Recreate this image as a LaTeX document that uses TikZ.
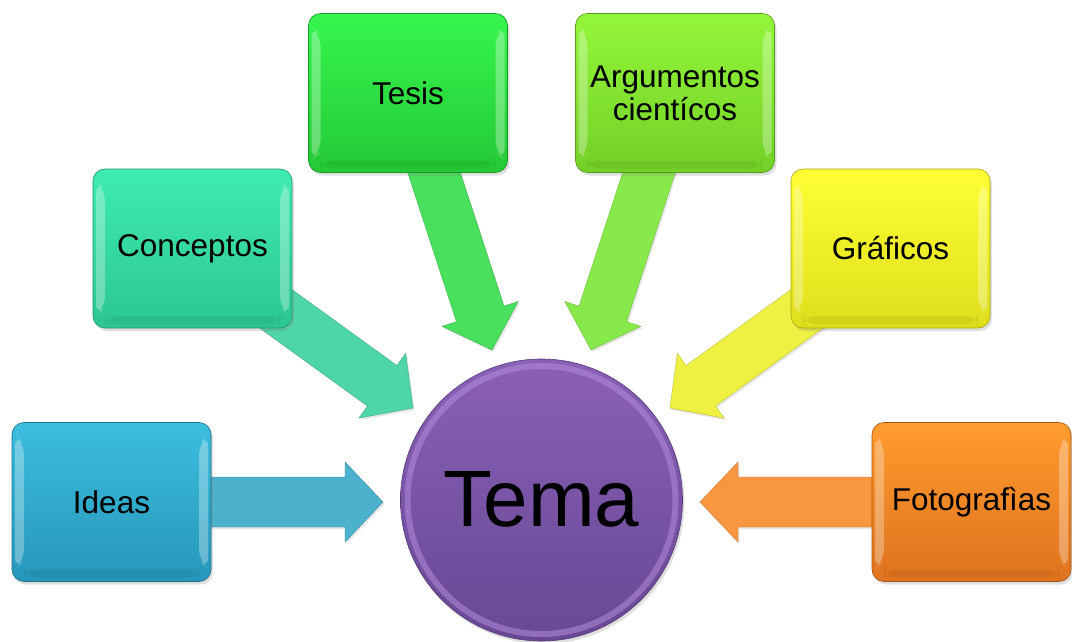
\documentclass[tikz,border=0pt]{standalone}
\usepackage{fontspec}
\setmainfont{Liberation Sans}
\usetikzlibrary{calc, shadows, backgrounds}

\definecolor{ideasT}{RGB}{60,190,222}
\definecolor{ideasB}{RGB}{38,150,186}
\definecolor{ideasA}{RGB}{76,177,205}
\definecolor{concT}{RGB}{62,236,176}
\definecolor{concB}{RGB}{44,198,144}
\definecolor{concA}{RGB}{78,214,166}
\definecolor{tesisT}{RGB}{54,246,78}
\definecolor{tesisB}{RGB}{36,200,54}
\definecolor{tesisA}{RGB}{72,224,92}
\definecolor{argT}{RGB}{148,246,58}
\definecolor{argB}{RGB}{114,208,38}
\definecolor{argA}{RGB}{136,234,74}
\definecolor{grafT}{RGB}{255,255,52}
\definecolor{grafB}{RGB}{222,222,28}
\definecolor{grafA}{RGB}{238,240,66}
\definecolor{fotoT}{RGB}{255,156,46}
\definecolor{fotoB}{RGB}{222,114,30}
\definecolor{fotoA}{RGB}{249,150,64}
\definecolor{temaT}{RGB}{138,96,182}
\definecolor{temaB}{RGB}{104,72,148}
\definecolor{temaR}{RGB}{178,140,218}

% block arrow from a box centre to a tip: #1 from, #2 tip, #3 colour
\newcommand{\blockarrow}[3]{%
  \coordinate (ah) at ($(#2)!38pt!(#1)$);
  \filldraw[fill=#3, draw=#3!80!black, line width=.4pt,
            drop shadow={opacity=.2, shadow xshift=1.5pt, shadow yshift=-2pt}]
    ($(#1)!25pt!90:(#2)$) -- ($(ah)!25pt!90:(#2)$) -- ($(ah)!40pt!90:(#2)$) -- (#2)
    -- ($(ah)!40pt!-90:(#2)$) -- ($(ah)!25pt!-90:(#2)$) -- ($(#1)!25pt!-90:(#2)$) -- cycle;
}

\begin{document}
\begin{tikzpicture}[x=1pt, y=-1pt,
    topicbox/.style 2 args={draw=#2!75!black, line width=.6pt, rounded corners=12pt,
        minimum width=199pt, minimum height=159pt, align=center,
        font=\fontsize{31.5}{33}\selectfont, top color=#1, bottom color=#2,
        drop shadow={opacity=.25, shadow xshift=2pt, shadow yshift=-3pt},
        path picture={
            \fill[white, opacity=.3] ([xshift=3pt,yshift=-12pt]path picture bounding box.north west)
                -- ++(9pt,-9pt) -- ++(0,-117pt) -- ++(-9pt,-9pt) -- cycle;
            \fill[white, opacity=.3] ([xshift=-3pt,yshift=-12pt]path picture bounding box.north east)
                -- ++(-9pt,-9pt) -- ++(0,-117pt) -- ++(9pt,-9pt) -- cycle;
            \fill[black, opacity=.06] ([xshift=12pt,yshift=12pt]path picture bounding box.south west)
                rectangle ([xshift=-12pt,yshift=4pt]path picture bounding box.south east);
        }},
    hub/.style={circle, draw=temaB!80!black, line width=.6pt, minimum size=282pt, inner sep=0pt,
        top color=temaT, bottom color=temaB, font=\fontsize{80}{90}\selectfont,
        drop shadow={opacity=.25, shadow xshift=2pt, shadow yshift=-3pt},
        path picture={
            \draw[temaR, opacity=.55, line width=6pt] (path picture bounding box.center) circle (134pt);
        }}
]
    \useasboundingbox (0,0) rectangle (1072,642);

    \node[hub]                               (tema)  at (541.5,500) {\raisebox{3pt}{Tema}};
    \node[topicbox={ideasT}{ideasB}]         (ideas) at (111.5,502) {Ideas};
    \node[topicbox={concT}{concB}]           (conc)  at (192.5,248.5) {Conceptos};
    \node[topicbox={tesisT}{tesisB}]         (tesis) at (408,93) {Tesis};
    \node[topicbox={argT}{argB}]             (arg)   at (675,93) {Argumentos\\cientícos};
    \node[topicbox={grafT}{grafB}]           (graf)  at (890.5,248.5) {Gráficos};
    \node[topicbox={fotoT}{fotoB}]           (foto)  at (971.5,502) {Fotografìas};

    \coordinate (ideas tip) at (383,502);
    \coordinate (conc tip)  at (413,408);
    \coordinate (tesis tip) at (492,350);
    \coordinate (arg tip)   at (591,350);
    \coordinate (graf tip)  at (670,408);
    \coordinate (foto tip)  at (700,502);

    \begin{scope}[on background layer]
        \blockarrow{ideas.center}{ideas tip}{ideasA}
        \blockarrow{conc.center}{conc tip}{concA}
        \blockarrow{tesis.center}{tesis tip}{tesisA}
        \blockarrow{arg.center}{arg tip}{argA}
        \blockarrow{graf.center}{graf tip}{grafA}
        \blockarrow{foto.center}{foto tip}{fotoA}
    \end{scope}
\end{tikzpicture}
\end{document}
